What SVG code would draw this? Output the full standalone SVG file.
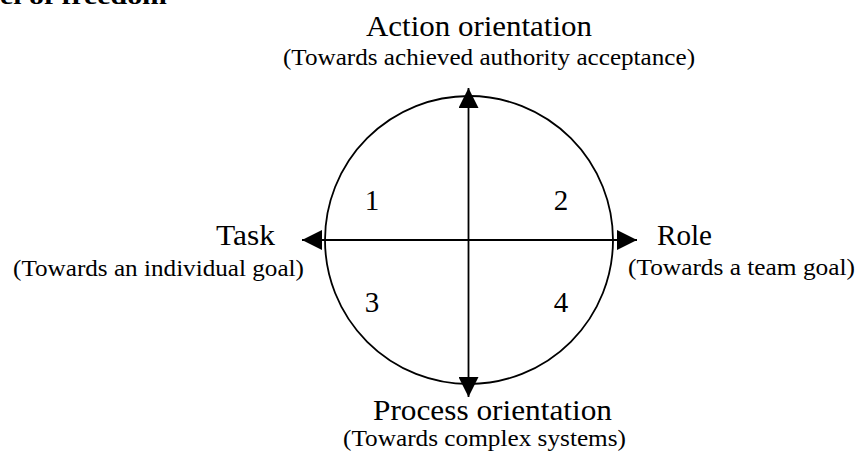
<svg xmlns="http://www.w3.org/2000/svg" width="860" height="457" viewBox="0 0 860 457">
  <style>
    .t { font-family: "Liberation Serif", "Times New Roman", serif; fill: #000; }
    .title { font-size: 29px; }
    .sub { font-size: 23.5px; }
    .num { font-size: 29px; }
    .cap { font-family: "Liberation Serif", "Times New Roman", serif; font-weight: bold; font-size: 24px; fill: #000; }
    .ln { stroke: #000; stroke-width: 1.8; fill: none; }
  </style>
  <defs>
    <marker id="arr" markerUnits="userSpaceOnUse" markerWidth="20" markerHeight="20" refX="20" refY="10" orient="auto-start-reverse" viewBox="0 0 20 20">
      <path d="M0,0 L20,10 L0,20 z" fill="#000"/>
    </marker>
  </defs>
  <rect width="860" height="457" fill="#fff"/>
  <text class="cap" x="0" y="4" textLength="167" lengthAdjust="spacingAndGlyphs">el of freedom</text>

  <g id="circle">
    <circle cx="469" cy="240" r="144" stroke="#000" stroke-width="1.8" fill="none"/>
  </g>

  <g id="connectors">
    <line class="ln" x1="468.5" y1="397" x2="468.5" y2="88" marker-start="url(#arr)" marker-end="url(#arr)"/>
    <line class="ln" x1="302" y1="240" x2="637" y2="240" marker-start="url(#arr)" marker-end="url(#arr)"/>
  </g>

  <g id="action">
    <text class="t title" x="366" y="36" textLength="226" lengthAdjust="spacingAndGlyphs">Action orientation</text>
    <text class="t sub" x="283" y="65" textLength="412" lengthAdjust="spacingAndGlyphs">(Towards achieved authority acceptance)</text>
  </g>

  <g id="task">
    <text class="t title" x="216" y="245" textLength="59" lengthAdjust="spacingAndGlyphs">Task</text>
    <text class="t sub" x="13" y="276" textLength="291" lengthAdjust="spacingAndGlyphs">(Towards an individual goal)</text>
  </g>

  <g id="role">
    <text class="t title" x="657" y="245" textLength="55" lengthAdjust="spacingAndGlyphs">Role</text>
    <text class="t sub" x="628" y="275" textLength="227" lengthAdjust="spacingAndGlyphs">(Towards a team goal)</text>
  </g>

  <g id="process">
    <text class="t title" x="373" y="420" textLength="239" lengthAdjust="spacingAndGlyphs">Process orientation</text>
    <text class="t sub" x="343" y="446" textLength="283" lengthAdjust="spacingAndGlyphs">(Towards complex systems)</text>
  </g>

  <g id="quadrants">
    <text class="t num" x="372" y="210" text-anchor="middle">1</text>
    <text class="t num" x="561" y="210" text-anchor="middle">2</text>
    <text class="t num" x="372" y="312" text-anchor="middle">3</text>
    <text class="t num" x="561" y="312" text-anchor="middle">4</text>
  </g>
</svg>
